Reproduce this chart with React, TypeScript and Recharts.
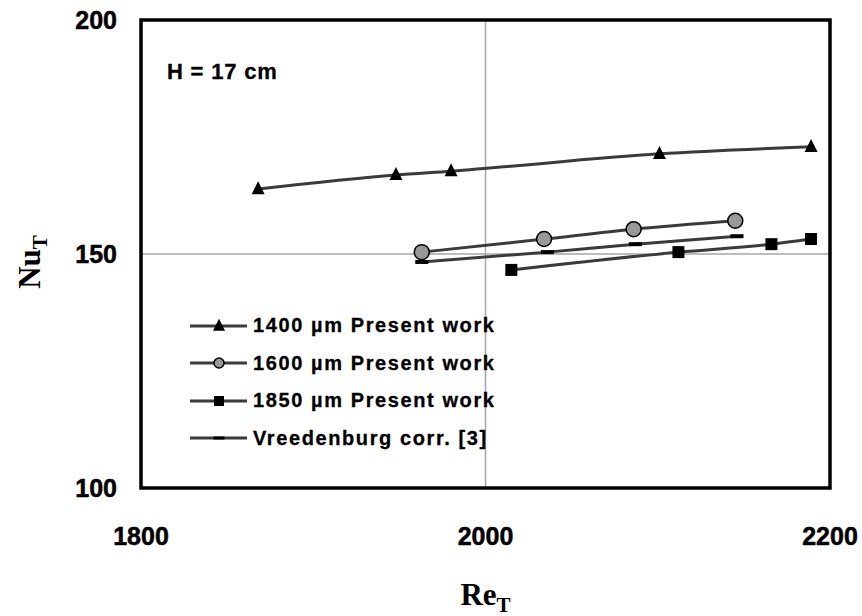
import React from "react";
import {
  LineChart,
  Line,
  XAxis,
  YAxis,
  CartesianGrid,
  ReferenceArea,
  Legend,
} from "recharts";

// Re_T / Nu_T
const re1400 = [1868, 1948, 1980, 2101, 2189];
const nu1400 = [163.9, 166.9, 167.7, 171.4, 172.9];
const re1600 = [1963, 2034, 2086, 2145];
const nu1600 = [150.4, 153.2, 155.3, 157.1];
const re1850 = [2015, 2112, 2166, 2189];
const nu1850 = [146.6, 150.4, 152.1, 153.2];
const reVreed = [1963, 2036, 2087, 2146];
const nuVreed = [148.3, 150.4, 152.1, 153.8];

const xTicks = [1800, 2000, 2200];
const yTicks = [100, 150, 200];

const seriesNames = [
  "1400 µm Present work",
  "1600 µm Present work",
  "1850 µm Present work",
  "Vreedenburg corr. [3]",
];

const toPoints = (re: number[], nu: number[]) =>
  re.map((r, i) => ({ re: r, nu: nu[i] }));

const d1400 = toPoints(re1400, nu1400);
const d1600 = toPoints(re1600, nu1600);
const d1850 = toPoints(re1850, nu1850);
const dVreed = toPoints(reVreed, nuVreed);

const LINE = "#3a3a3a";
const FONT = "'Liberation Sans', Arial, sans-serif";
const SERIF = "'Liberation Serif', 'Times New Roman', serif";

const Triangle = ({ cx, cy, s = 13 }: any) => (
  <polygon
    points={`${cx},${cy - s * 0.6} ${cx - s / 2},${cy + s * 0.4} ${cx + s / 2},${cy + s * 0.4}`}
    fill="#000"
  />
);
const Circle = ({ cx, cy, r = 7.5 }: any) => (
  <circle cx={cx} cy={cy} r={r} fill="#999999" stroke="#000" strokeWidth={1.5} />
);
const Square = ({ cx, cy, s = 12 }: any) => (
  <rect x={cx - s / 2} y={cy - s / 2} width={s} height={s} fill="#000" />
);
const Dash = ({ cx, cy, w = 13, h = 4 }: any) => (
  <rect x={cx - w / 2} y={cy - h / 2} width={w} height={h} fill="#000" />
);

const markers = [Triangle, Circle, Square, Dash];

const dotFor = (Shape: any) => (props: any) => {
  const { cx, cy, index } = props;
  return (
    <g key={`m-${index}`}>
      <Shape cx={cx} cy={cy} />
    </g>
  );
};

const LegendBox = () => (
  <div style={{ fontFamily: FONT, fontWeight: "bold", fontSize: 20 }}>
    {seriesNames.map((name, i) => {
      const Shape = markers[i];
      const small =
        i === 0 ? { s: 12 } : i === 1 ? { r: 5 } : i === 2 ? { s: 10 } : { w: 11, h: 3 };
      return (
        <div
          key={name}
          style={{ display: "flex", alignItems: "center", height: 37.5, whiteSpace: "nowrap" }}
        >
          <svg width={63} height={20}>
            <line x1={0} y1={10} x2={57} y2={10} stroke={LINE} strokeWidth={3} />
            <Shape cx={29} cy={10} {...small} />
          </svg>
          <span style={{ letterSpacing: 1.6, color: "#000", WebkitTextStroke: "0.3px #000" }}>
            {name}
          </span>
        </div>
      );
    })}
  </div>
);

const XTitle = ({ viewBox }: any) => (
  <text
    x={viewBox.x + viewBox.width / 2}
    y={605}
    textAnchor="middle"
    fontFamily={SERIF}
    fontWeight="bold"
    fontSize={31}
    fill="#000"
  >
    Re<tspan dy={7} fontSize={21}>T</tspan>
  </text>
);

const YTitle = ({ viewBox }: any) => {
  const x = 40;
  const y = viewBox.y + viewBox.height / 2 + 8;
  return (
    <text
      x={x}
      y={y}
      transform={`rotate(-90 ${x} ${y})`}
      textAnchor="middle"
      fontFamily={SERIF}
      fontWeight="bold"
      fontSize={31}
      fill="#000"
    >
      Nu<tspan dy={7} fontSize={21}>T</tspan>
    </text>
  );
};

const XTick = ({ x, y, payload }: any) => (
  <text
    x={x}
    y={y + 17}
    textAnchor="middle"
    fontFamily={FONT}
    fontWeight="bold"
    fontSize={25}
    fill="#000"
    stroke="#000"
    strokeWidth={0.5}
  >
    {payload.value}
  </text>
);

const YTick = ({ x, y, payload }: any) => (
  <text
    x={x}
    y={y + 9}
    textAnchor="end"
    fontFamily={FONT}
    fontWeight="bold"
    fontSize={25}
    fill="#000"
    stroke="#000"
    strokeWidth={0.5}
  >
    {payload.value}
  </text>
);

export default function App() {
  return (
    <div style={{ position: "absolute", left: 0, top: 0, width: 862, height: 616, background: "#fff" }}>
      <LineChart
        width={862}
        height={616}
        margin={{ top: 20, right: 32, left: 0, bottom: 0 }}
      >
        <CartesianGrid stroke="#a6a6a6" strokeWidth={1.5} />
        <XAxis
          type="number"
          dataKey="re"
          domain={[1800, 2200]}
          ticks={xTicks}
          height={128}
          tickLine={false}
          axisLine={false}
          tickSize={0}
          tickMargin={40}
          tick={<XTick />}
          allowDataOverflow
          label={<XTitle />}
        />
        <YAxis
          type="number"
          dataKey="nu"
          domain={[100, 200]}
          ticks={yTicks}
          width={141}
          tickLine={false}
          axisLine={false}
          tickSize={0}
          tickMargin={24}
          tick={<YTick />}
          allowDataOverflow
          label={<YTitle />}
        />
        <ReferenceArea
          x1={1800}
          x2={2200}
          y1={100}
          y2={200}
          fill="none"
          fillOpacity={0}
          stroke="#000"
          strokeWidth={3.5}
        />
        <Line
          data={d1400}
          dataKey="nu"
          name={seriesNames[0]}
          type="monotone"
          stroke={LINE}
          strokeWidth={3}
          dot={dotFor(Triangle)}
          activeDot={false}
          isAnimationActive={false}
        />
        <Line
          data={dVreed}
          dataKey="nu"
          name={seriesNames[3]}
          type="monotone"
          stroke={LINE}
          strokeWidth={3}
          dot={dotFor(Dash)}
          activeDot={false}
          isAnimationActive={false}
        />
        <Line
          data={d1600}
          dataKey="nu"
          name={seriesNames[1]}
          type="monotone"
          stroke={LINE}
          strokeWidth={3}
          dot={dotFor(Circle)}
          activeDot={false}
          isAnimationActive={false}
        />
        <Line
          data={d1850}
          dataKey="nu"
          name={seriesNames[2]}
          type="monotone"
          stroke={LINE}
          strokeWidth={3}
          dot={dotFor(Square)}
          activeDot={false}
          isAnimationActive={false}
        />
        <Legend
          layout="vertical"
          align="center"
          verticalAlign="middle"
          content={<LegendBox />}
          wrapperStyle={{ left: 190, top: 307, width: 420, right: "auto", bottom: "auto" }}
        />
      </LineChart>
      <div
        style={{
          position: "absolute",
          left: 167,
          top: 59,
          fontFamily: FONT,
          fontWeight: "bold",
          fontSize: 22,
          letterSpacing: 0.8,
          WebkitTextStroke: "0.3px #000",
          color: "#000",
          whiteSpace: "nowrap",
        }}
      >
        H = 17 cm
      </div>
    </div>
  );
}
